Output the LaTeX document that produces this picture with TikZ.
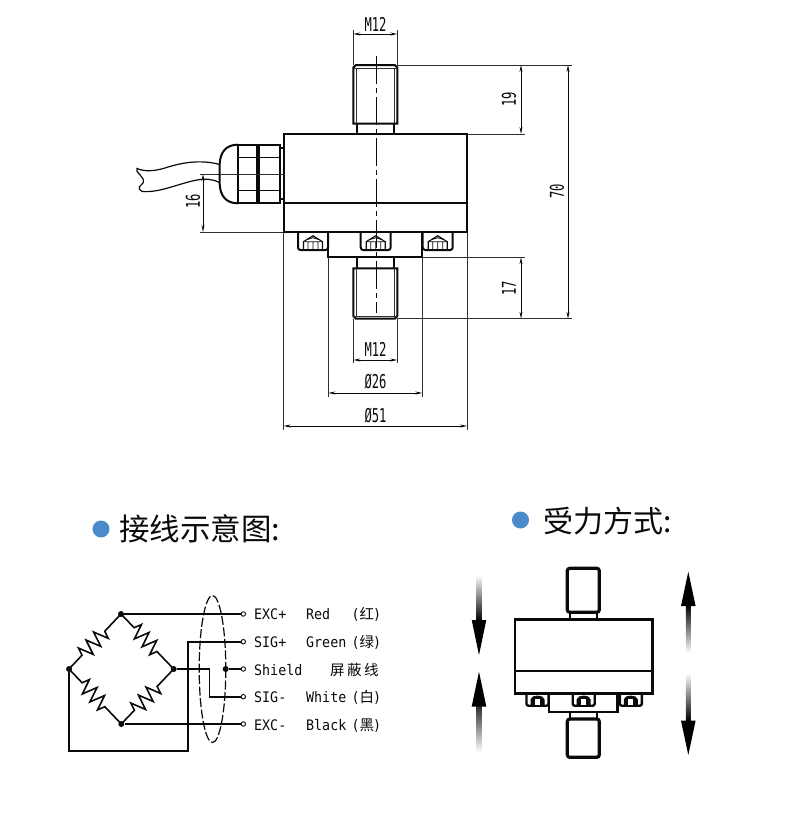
\documentclass[tikz,border=0pt]{standalone}
\usepackage{fontspec}
\setmainfont{Liberation Sans}
\newfontfamily\cjk{Noto Sans CJK SC}
\newfontfamily\monof{DejaVu Sans Mono}
\usetikzlibrary{arrows.meta,decorations.pathmorphing}
\definecolor{dotblue}{HTML}{4A8CCB}
\definecolor{ink}{HTML}{0A0A0A}
\tikzset{
  thick line/.style={draw=ink,line width=2pt,line join=miter},
  thin line/.style={draw=ink!85,line width=.9pt},
  center line/.style={draw=ink,line width=1pt,dash pattern=on 28pt off 4pt on 5pt off 4pt},
  dim/.style={draw=ink,line width=.9pt,{Stealth[length=7pt,width=3pt]}-{Stealth[length=7pt,width=3pt]}},
  dimtext/.style={font=\monof\fontsize{19}{19}\selectfont,xscale=.64,inner sep=0pt,text=ink},
  dimtextv/.style={font=\monof\fontsize{19}{19}\selectfont,yscale=.64,rotate=90,inner sep=0pt,text=ink},
  title/.style={font=\cjk\fontsize{30}{30}\selectfont,anchor=west,inner sep=0pt,text=ink},
  bullet/.style={circle,fill=dotblue,minimum size=17pt,inner sep=0pt},
  wire/.style={draw=ink,line width=1.6pt},
  term/.style={circle,draw=ink,fill=white,line width=.9pt,minimum size=4.5pt,inner sep=0pt},
  joint/.style={circle,fill=ink,minimum size=6pt,inner sep=0pt},
  res/.style={wire,decorate,decoration={zigzag,amplitude=7.5pt,segment length=11pt,pre length=19pt,post length=19pt}},
  lab/.style={font=\monof\fontsize{14.5}{15}\selectfont,xscale=.92,anchor=base west,inner sep=0pt,text=ink},
  labc/.style={font=\cjk\fontsize{14.5}{15}\selectfont,anchor=base west,inner sep=0pt,text=ink},
  heavy/.style={draw=ink,line width=2.4pt},
  stud/.style={draw=ink,line width=3.2pt,rounded corners=2.5pt},
}
\newcommand{\screwbig}[1]{%
  \begin{scope}[shift={(#1,232)}]
    \draw[thick line,rounded corners=2.5pt] (-15,0) -- (-15,18) -- (15,18) -- (15,0);
    \draw[draw=ink,line width=1.1pt] (-9.5,17.5) -- (-9.5,9.7) -- (0,3.7) -- (9.5,9.7) -- (9.5,17.5);
    \draw[draw=ink,line width=.9pt] (-9.5,9.7) -- (9.5,9.7) (-5,9.7) -- (-5,17.5) (5,9.7) -- (5,17.5) (0,9.7) -- (0,17.5)
      (-6,7.5) -- (0,5.7) -- (6,7.5);
  \end{scope}}
\newcommand{\screwsmall}[1]{%
  \begin{scope}[shift={(#1,693.3)}]
    \draw[heavy,rounded corners=2pt] (-11,0) -- (-11,12.4) -- (11,12.4) -- (11,0);
    \fill[ink] (-7,12) -- (-7,6) .. controls (-6,1) and (6,1) .. (7,6) -- (7,12) -- cycle;
    \fill[white] (-2.5,11.5) rectangle (2.5,6);
  \end{scope}}
\begin{document}
\begin{tikzpicture}[x=1pt,y=-1pt]
\useasboundingbox (0,0) rectangle (790,822);
\fill[white] (0,0) rectangle (790,822);

% ---- thin extension lines
\draw[thin line] (353.3,30) -- (353.3,65) (397.3,30) -- (397.3,65);
\draw[thin line] (397.3,65) -- (572,65) (394,134) -- (525,134);
\draw[thin line] (422.3,257.3) -- (525,257.3) (397.3,318.7) -- (572,318.7);
\draw[thin line] (353.3,318.7) -- (353.3,363) (397.3,318.7) -- (397.3,363);
\draw[thin line] (328.3,257.3) -- (328.3,397) (422.3,257.3) -- (422.3,397);
\draw[thin line] (283.5,232) -- (283.5,430) (467,232) -- (467,430);
\draw[thin line] (200,174) -- (283.5,174) (200,232) -- (283.5,232);
% ---- dimensions
\draw[dim] (353.3,34) -- (397.3,34);
\node[dimtext] (m12a) at (375.5,24) {M12};
\draw[dim] (521,65) -- (521,134);
\node[dimtextv] (d19) at (509,99) {19};
\draw[dim] (568,65) -- (568,318.7);
\node[dimtextv] (d70) at (557,191) {70};
\draw[dim] (521,257.3) -- (521,318.7);
\node[dimtextv] (d17) at (509,288) {17};
\draw[dim] (353.3,360) -- (397.3,360);
\node[dimtext] (m12b) at (375.5,349) {M12};
\draw[dim] (328.3,393) -- (422.3,393);
\node[dimtext] (d26) at (375.5,382) {Ø26};
\draw[dim] (283.5,426) -- (467,426);
\node[dimtext] (d51) at (375.5,416) {Ø51};
\draw[dim] (203,174) -- (203,232);
\node[dimtextv] (d16) at (193,201) {16};

% ---- sensor
\draw[thick line] (283.5,134) rectangle (467,232);
\draw[thick line] (283.5,203.3) -- (467,203.3);
% top stud
\draw[thick line] (353.3,123.5) -- (353.3,67.5) -- (356,65) -- (394.7,65) -- (397.3,67.5) -- (397.3,123.5) -- cycle;
\draw[thin line] (353.3,68) -- (397.3,68) (356,68) -- (356,123.5) (394.7,68) -- (394.7,123.5);
\draw[thick line] (356.7,123.5) -- (356.7,134) (394,123.5) -- (394,134);
% lower block, stud
\draw[thick line] (328.3,232) -- (328.3,257.3) -- (422.3,257.3) -- (422.3,232);
\draw[thick line] (356.7,257.3) -- (356.7,268.3) (394,257.3) -- (394,268.3);
\draw[thick line] (353.3,268.3) -- (353.3,316) -- (356,318.7) -- (394.7,318.7) -- (397.3,316) -- (397.3,268.3) -- cycle;
\draw[thin line] (353.3,316) -- (397.3,316) (356,268.3) -- (356,316) (394.7,268.3) -- (394.7,316);
\screwbig{313}
\screwbig{375.7}
\screwbig{437.7}
% centre line
\draw[center line] (376,56) -- (376,313);
% gland
\draw[thick line] (238,144.7) .. controls (226,144.7) and (220,152) .. (219.6,165) -- (219.6,183) .. controls (220,196) and (226,203.3) .. (238,203.3);
\draw[thick line] (238,144.7) rectangle (256.7,203.3);
\draw[thick line] (259.3,144.7) rectangle (280,203.3);
\draw[thick line] (280,148) -- (283.5,148) (280,199.3) -- (283.5,199.3);
\draw[draw=ink,line width=1.3pt] (238,157.3) -- (256.7,157.3) (238,190.7) -- (256.7,190.7) (259.3,157.3) -- (280,157.3) (259.3,190.7) -- (280,190.7);
% cable
\draw[draw=ink,line width=1.2pt] (219.6,164.5) .. controls (200,159) and (180,163) .. (165,168) .. controls (155,171) and (145,172) .. (137,168.5)
  .. controls (134,172) and (146,177) .. (143,183) .. controls (141,186) and (136,187) .. (142,191.5)
  .. controls (160,193) and (180,183) .. (197,180) .. controls (205,178.5) and (213,179) .. (219.6,182.5);
\draw[thin line] (219.6,174) -- (283.5,174);

% ---- titles
\node[bullet] (b1) at (101,529) {};
\node[title,font=\cjk\fontsize{30.5}{30.5}\selectfont] (t1) at (119,529) {接线示意图:};
\node[bullet] (b2) at (520.5,520) {};
\node[title] (t2) at (543,521) {受力方式:};

% ---- wiring
\node[joint] (nt) at (121,614) {};
\node[joint] (nl) at (69,669) {};
\node[joint] (nr) at (173.7,669) {};
\node[joint] (nb) at (121.3,724) {};
\node[joint] (ns) at (225.7,669) {};
\node[term] (t1e) at (243.3,614) {};
\node[term] (t2e) at (243.3,641.7) {};
\node[term] (t3e) at (243.3,669) {};
\node[term] (t4e) at (243.3,696.7) {};
\node[term] (t5e) at (243.3,724) {};
\draw[res] (nl.center) -- (nt.center);
\draw[res] (nt.center) -- (nr.center);
\draw[res] (nl.center) -- (nb.center);
\draw[res] (nb.center) -- (nr.center);
\draw[wire] (nt) -- (t1e);
\draw[wire] (t2e) -- (187.7,641.7) -- (187.7,751) -- (69,751) -- (nl);
\draw[wire] (nr) -- (209.3,669) -- (209.3,696.7) -- (t4e);
\draw[wire] (nb) -- (t5e);
\draw[wire] (ns) -- (t3e);
\draw[draw=ink,line width=1.2pt,dash pattern=on 9pt off 2.5pt] (212.5,669) ellipse [x radius=13.3,y radius=73.5];
% labels
\node[lab] (l1) at (254,619.5) {EXC+};
\node[lab] (l1b) at (306,619.5) {Red};
\node[lab] (l1c) at (351.5,619.5) {(\hspace{8pt}\hspace{6.5pt})};
\node[labc] (l1d) at (359.5,619.5) {红};
\node[lab] (l2) at (254,647.5) {SIG+};
\node[lab] (l2b) at (306,647.5) {Green};
\node[lab] (l2c) at (351.5,647.5) {(\hspace{8pt}\hspace{6.5pt})};
\node[labc] (l2d) at (359.5,647.5) {绿};
\node[lab] (l3) at (254,675) {Shield};
\node[labc] (l3c) at (330,675) {屏\,蔽\,线};
\node[lab] (l4) at (254,702.5) {SIG-};
\node[lab] (l4b) at (306,702.5) {White};
\node[lab] (l4c) at (351.5,702.5) {(\hspace{8pt}\hspace{6.5pt})};
\node[labc] (l4d) at (359.5,702.5) {白};
\node[lab] (l5) at (254,730) {EXC-};
\node[lab] (l5b) at (306,730) {Black};
\node[lab] (l5c) at (351.5,730) {(\hspace{8pt}\hspace{6.5pt})};
\node[labc] (l5d) at (359.5,730) {黑};

% ---- load figure
\draw[heavy] (515,619.3) rectangle (652.3,693.3);
\draw[heavy] (515,671) -- (652.3,671);
\draw[stud] (567.3,612.3) -- (567.3,568.3) -- (599.3,568.3) -- (599.3,612.3) -- cycle;
\draw[heavy] (570,612.3) -- (570,619.3) (596.7,612.3) -- (596.7,619.3);
\draw[heavy] (549,693.3) -- (549,711.7) -- (617.3,711.7) -- (617.3,693.3);
\draw[heavy] (570,711.7) -- (570,719) (596.7,711.7) -- (596.7,719);
\draw[stud] (567.3,719) -- (567.3,757.3) -- (599.3,757.3) -- (599.3,719) -- cycle;
\screwsmall{537.5}
\screwsmall{583.7}
\screwsmall{630.8}
% force arrows
\shade[top color=white,bottom color=black] (476.5,575) rectangle (481.5,621);
\fill[black] (471.7,620) -- (486.3,620) -- (479,655) -- cycle;
\shade[top color=black,bottom color=white] (476.5,696) rectangle (481.5,752);
\fill[black] (471.7,706.5) -- (486.3,706.5) -- (479,671.7) -- cycle;
\shade[top color=black,bottom color=white] (685.8,605) rectangle (690.8,653);
\fill[black] (681,606) -- (695.6,606) -- (688.3,571.7) -- cycle;
\shade[top color=white,bottom color=black] (685.8,673) rectangle (690.8,721);
\fill[black] (681,720.7) -- (695.6,720.7) -- (688.3,755) -- cycle;
\end{tikzpicture}
\end{document}
